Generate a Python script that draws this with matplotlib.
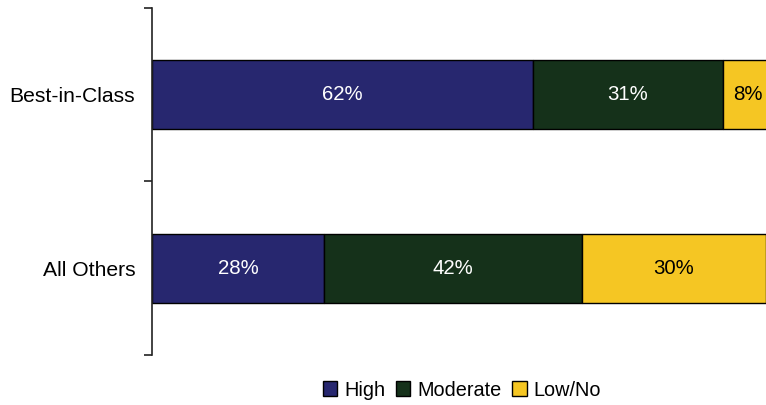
import numpy as np
import matplotlib.pyplot as plt
from matplotlib.patches import Patch

plt.rcParams['font.family'] = ['Liberation Sans', 'DejaVu Sans']

# dane
kategorie = ['All Others', 'Best-in-Class']
serie = ['High', 'Moderate', 'Low/No']
high = [28, 62]
moderate = [42, 31]
low = [30, 8]
kolory = ['#27276F', '#15311A', '#F5C623']
kolory_tekstu = ['white', 'white', 'black']

fig = plt.figure(figsize=(7.66, 4.05), dpi=100)
ax = fig.add_axes([0.1984, 0.1235, 0.8016, 0.8568])

y = np.arange(len(kategorie))
lewo = np.zeros(len(kategorie))
for wartosci, kolor, kt in zip([high, moderate, low], kolory, kolory_tekstu):
    bars = ax.barh(y, wartosci, left=lewo, height=0.40, color=kolor,
                   edgecolor='black', linewidth=1, clip_on=True)
    for b, w in zip(bars, wartosci):
        ax.text(b.get_x() + b.get_width() / 2, b.get_y() + b.get_height() / 2,
                '{0}%'.format(w), ha='center', va='center', color=kt, fontsize=14.7)
    lewo = lewo + np.array(wartosci)

ax.set_xlim(0, 100)
ax.set_ylim(-0.5, 1.5)
ax.set_yticks(y)
ax.set_yticklabels(kategorie, fontsize=15.2)
ax.set_yticks([-0.5, 0.5, 1.5], minor=True)
ax.tick_params(axis='y', which='major', length=0, pad=12)
ax.tick_params(axis='y', which='minor', length=6, width=1.2, color='#222222')
ax.set_xticks([])
for s in ['top', 'right', 'bottom']:
    ax.spines[s].set_visible(False)
ax.spines['left'].set_linewidth(1.2)
ax.spines['left'].set_color('#222222')

uchwyty = [Patch(facecolor=k, edgecolor='black', linewidth=1) for k in kolory]
fig.legend(uchwyty, serie, loc='center', bbox_to_anchor=(0.603, 0.037), ncol=3,
           frameon=False, fontsize=14.3, handlelength=0.72, handleheight=0.72,
           handletextpad=0.35, columnspacing=0.55)

fig.savefig('out.png', dpi=100)
